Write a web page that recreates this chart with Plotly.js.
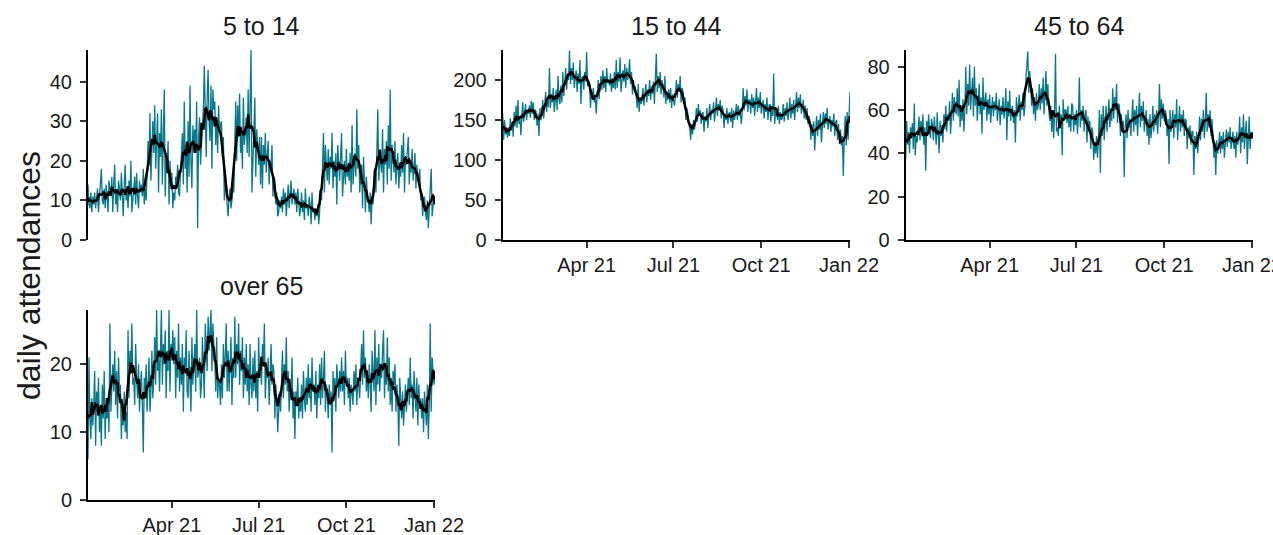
<!DOCTYPE html>
<html><head><meta charset="utf-8">
<script src="https://cdn.plot.ly/plotly-3.0.1.min.js"></script>
<style>html,body{margin:0;padding:0;background:#fff}#chart{width:1273px;height:535px}</style>
</head><body><div id="chart"></div>
<script>
// ---- data ----
const startDate = '2021-01-03';
const endDate = '2022-01-02';
const panelTitles = ['5 to 14', '15 to 44', '45 to 64', 'over 65'];
const yTitle = 'daily attendances';
const tickDates = ['2021-04-01', '2021-07-01', '2021-10-01', '2022-01-01'];
const tickLabels = ['Apr 21', 'Jul 21', 'Oct 21', 'Jan 22'];

const age5to14 = [
14,9,8,12,7,11,9, 12,8,10,13,7,11,12, 18,10,9,13,8,14,11, 7,15,12,11,16,7,14,
19,9,12,7,15,13,10, 17,11,6,14,19,10,12, 8,15,11,20,7,10,13, 16,9,17,11,8,15,12,
14,11,18,9,13,10,17, 25,19,32,15,24,30,22, 34,18,26,32,12,27,21, 33,14,27,38,11,22,17,
25,9,20,14,17,8,12, 10,16,14,19,12,11,17, 21,27,14,35,18,24,12, 30,16,39,20,13,29,24,
28,22,35,3,26,31,19, 23,29,33,44,26,21,36, 43,30,25,39,18,38,33, 35,24,31,22,34,27,29,
30,21,26,10,16,12,9, 6,11,13,8,10,14,12, 25,35,20,34,26,37,22, 27,18,36,24,29,31,22,
38,21,33,48,12,23,27, 36,16,28,22,19,26,14, 26,13,24,19,27,17,21, 25,14,20,18,24,11,16,
15,9,12,6,7,10,8, 11,7,13,9,12,6,10, 14,8,12,15,9,11,13, 9,12,7,13,10,6,8,
12,7,10,5,13,8,9, 6,11,9,4,12,7,8, 5,8,6,9,4,7,13, 10,17,27,12,24,19,15,
23,14,21,18,27,13,20, 16,22,9,24,19,15,21, 27,11,17,20,14,23,16, 19,15,22,12,29,14,18,
22,16,33,18,24,12,17, 19,8,21,15,7,16,11, 10,7,12,4,11,9,13, 18,12,27,33,15,21,19,
17,28,12,23,19,25,14, 29,18,38,15,24,21,17, 25,14,19,22,13,18,16, 24,17,27,12,21,19,23,
26,14,20,17,23,15,18, 22,13,19,16,14,18,10, 12,6,9,11,7,5,10, 3,8,13,18,6,10,11,
9];

const age15to44 = [
158,125,150,132,141,128,138, 130,152,138,147,129,160,142, 168,140,175,145,155,131,152, 172,148,165,170,150,161,158,
168,153,174,158,172,150,163, 160,143,158,130,165,150,157, 175,152,170,185,160,178,166, 215,165,182,172,190,160,178,
188,162,205,175,170,193,172, 210,180,196,215,188,205,200, 237,195,215,200,222,190,205, 212,185,208,195,225,170,203,
205,188,210,198,235,192,200, 195,165,188,176,190,172,180, 158,185,200,176,193,205,188, 212,190,205,185,215,196,200,
193,208,185,202,190,210,188, 225,190,210,198,228,185,205, 212,198,220,190,215,200,208, 226,195,210,182,200,188,192,
180,165,195,160,178,170,175, 190,168,185,195,172,188,180, 200,175,192,183,198,170,195, 233,185,205,190,210,182,200,
192,178,205,170,185,175,188, 172,190,165,182,175,168,180, 200,178,195,185,205,172,190, 185,170,178,150,165,158,145,
140,125,145,132,150,138,147, 165,148,170,155,162,145,158, 160,135,155,148,165,140,158, 170,150,163,158,172,148,162,
178,155,170,162,175,152,168, 162,140,158,150,165,145,158, 160,148,165,140,162,150,158, 170,150,168,155,160,145,158,
190,162,180,168,188,160,175, 175,158,182,165,178,155,170, 190,160,178,165,185,158,172, 175,152,170,160,178,150,168,
170,148,165,155,208,145,160, 165,150,168,145,160,150,152, 170,148,165,155,172,150,160, 178,152,170,158,175,150,165,
185,160,178,165,182,158,170, 175,152,168,150,165,145,155, 150,125,145,130,148,112,138, 155,130,150,138,158,122,145,
160,140,158,145,165,138,152, 155,135,150,142,158,130,148, 150,125,145,120,138,118,130, 80,130,155,118,160,125,150,
185];

const age45to64 = [
37,55,44,50,40,52,47, 54,42,63,39,48,45,50, 57,46,55,49,58,44,52, 32,55,48,58,51,47,56,
53,46,57,50,44,59,49, 40,55,48,52,45,58,51, 62,50,58,55,64,49,57, 68,55,66,60,58,70,57,
74,52,62,55,65,50,60, 80,58,72,62,81,60,68, 75,57,80,62,70,55,65, 72,58,66,49,75,60,64,
68,55,65,58,67,54,63, 66,57,64,60,68,55,62, 65,53,62,58,66,56,61, 70,46,64,57,69,55,60,
62,54,60,45,66,57,63, 67,55,64,60,68,57,62, 75,80,87,68,78,72,62, 70,58,66,55,68,60,62,
72,60,70,63,75,58,68, 78,62,72,60,55,62,50, 60,47,58,86,50,52,48, 62,52,58,39,65,55,60,
60,54,62,52,58,50,63, 62,50,58,53,60,49,57, 75,52,60,55,62,50,58, 60,45,57,50,55,42,52,
50,37,45,40,48,38,46, 60,31,58,48,62,46,55, 62,50,58,65,52,60,55, 70,56,66,60,72,54,63,
62,48,58,50,55,29,52, 58,47,60,52,56,48,55, 65,50,60,53,62,48,57, 68,52,62,55,64,50,58,
60,48,56,44,58,47,52, 62,50,58,53,60,49,57, 72,52,65,56,63,55,60, 58,48,56,35,60,50,55,
60,47,58,52,65,46,54, 62,50,58,52,60,48,56, 55,42,52,47,53,44,50, 50,30,48,42,50,40,46,
57,46,56,50,60,47,54, 68,50,58,52,60,48,56, 48,38,45,30,46,40,44, 50,40,48,42,50,38,47,
51,43,50,45,52,42,48, 50,42,48,38,50,44,47, 57,40,52,45,58,42,50, 55,35,48,57,42,50,47,
49];

const age65plus = [
6,21,12,9,15,11,14, 19,8,16,13,18,10,14, 8,17,12,19,9,14,12, 15,10,26,13,18,20,16,
22,14,19,12,21,16,17, 9,14,11,16,10,13,9, 25,15,22,19,26,17,18, 14,23,18,15,20,13,17,
19,14,7,18,16,20,13, 17,21,13,16,22,15,18, 24,17,28,19,22,16,23, 28,17,23,20,25,15,22,
19,28,16,23,21,25,20, 24,15,22,18,26,16,21, 17,23,13,21,19,25,16, 15,22,18,13,24,17,20,
23,16,28,18,19,21,15, 17,24,20,15,26,22,19, 27,22,25,28,19,26,23, 21,16,24,15,18,17,14,
20,15,23,18,21,26,16, 22,16,19,24,14,21,18, 27,18,23,20,26,17,22, 19,24,15,21,17,23,16,
20,14,23,17,15,21,16, 22,15,19,13,24,18,20, 17,23,20,26,15,19,18, 21,14,18,23,17,20,19,
12,17,15,10,14,16,13, 18,22,15,20,17,24,16, 19,13,17,15,21,12,16, 9,16,14,18,12,15,13,
17,12,19,15,13,18,14, 20,15,18,13,21,16,17, 14,19,12,17,15,20,14, 21,15,18,22,13,17,16,
12,17,14,16,7,19,15, 18,13,20,17,15,19,16, 21,16,19,14,22,17,18, 15,18,13,17,16,14,19,
16,20,14,18,17,15,19, 23,17,25,18,21,16,19, 15,20,17,13,22,18,16, 25,14,21,17,23,16,19,
18,22,25,15,20,17,24, 16,21,14,18,13,19,17, 20,13,17,15,8,18,14, 12,16,11,14,17,13,15,
18,14,21,15,17,12,19, 16,13,18,11,17,14,15, 12,15,10,16,13,11,17, 9,14,26,13,21,19,17,
19];

const seriesList = [age5to14, age15to44, age45to64, age65plus];
const yMax = [48, 237.5, 87.7, 28];
const yTicks = [[0,10,20,30,40],[0,50,100,150,200],[0,20,40,60,80],[0,10,20]];

// ---- helpers ----
function makeDates(n) {
  const out = [];
  const d0 = new Date(startDate + 'T00:00:00Z');
  for (let i = 0; i < n; i++) {
    out.push(new Date(d0.getTime() + i * 86400000).toISOString().slice(0, 10));
  }
  return out;
}
function rolling7(a) {
  return a.map((_, i) => {
    let s = 0, c = 0;
    for (let j = i - 3; j <= i + 3; j++) {
      if (j >= 0 && j < a.length) { s += a[j]; c++; }
    }
    return s / c;
  });
}

// ---- geometry (pixels) ----
const W = 1273, H = 535;
const xPix = [[88, 435], [502.7, 850], [905.7, 1253], [88, 435]];
const yPix = [[50, 240], [50, 240], [50, 240], [310, 500]];
const teal = '#07798a';
const FONT = 'Liberation Sans, Arial, sans-serif';

const traces = [];
seriesList.forEach((vals, i) => {
  const dates = makeDates(vals.length);
  const sfx = i === 0 ? '' : String(i + 1);
  traces.push({x: dates, y: vals, type: 'scatter', mode: 'lines',
    line: {color: teal, width: 1.3}, xaxis: 'x' + sfx, yaxis: 'y' + sfx, hoverinfo: 'skip'});
  traces.push({x: dates, y: rolling7(vals), type: 'scatter', mode: 'lines',
    line: {color: '#000', width: 2.5}, xaxis: 'x' + sfx, yaxis: 'y' + sfx, hoverinfo: 'skip'});
});

const layout = {
  width: W, height: H, margin: {l: 0, r: 0, t: 0, b: 0},
  paper_bgcolor: '#fff', plot_bgcolor: '#fff', showlegend: false,
  font: {family: FONT, color: '#1a1a1a'},
  annotations: []
};
for (let i = 0; i < 4; i++) {
  const sfx = i === 0 ? '' : String(i + 1);
  const showX = i !== 0;
  layout['xaxis' + sfx] = {
    domain: [xPix[i][0] / W, xPix[i][1] / W], anchor: 'y' + sfx,
    type: 'date', range: [startDate, endDate],
    showgrid: false, zeroline: false,
    showline: showX, linecolor: '#000', linewidth: 2,
    ticks: showX ? 'outside' : '', ticklen: 6, tickwidth: 2, tickcolor: '#333',
    tickmode: 'array', tickvals: tickDates, ticktext: tickLabels,
    showticklabels: showX, ticklabelstandoff: 0, ticklabeloverflow: 'allow',
    tickfont: {size: 20, family: FONT, color: '#1a1a1a'}
  };
  layout['yaxis' + sfx] = {
    domain: [1 - yPix[i][1] / H, 1 - yPix[i][0] / H], anchor: 'x' + sfx,
    range: [0, yMax[i]], showgrid: false, zeroline: false,
    showline: true, linecolor: '#000', linewidth: 2,
    ticks: 'outside', ticklen: 6, tickwidth: 2, tickcolor: '#333',
    tickmode: 'array', tickvals: yTicks[i],
    ticklabelstandoff: 4,
    tickfont: {size: 20, family: FONT, color: '#1a1a1a'}
  };
  const cx = (xPix[i][0] + xPix[i][1]) / 2;
  const ty = yPix[i][0] - 24;
  layout.annotations.push({
    text: panelTitles[i], xref: 'paper', yref: 'paper',
    x: cx / W, y: 1 - ty / H, xanchor: 'center', yanchor: 'middle',
    showarrow: false, font: {size: 25, family: FONT, color: '#1a1a1a'}
  });
}
layout.annotations.push({
  text: yTitle, xref: 'paper', yref: 'paper', x: 29 / W, y: 1 - 276 / H,
  xanchor: 'center', yanchor: 'middle', textangle: -90, showarrow: false,
  font: {size: 32, family: FONT, color: '#1a1a1a'}
});

Plotly.newPlot('chart', traces, layout, {staticPlot: true, displayModeBar: false});
</script></body></html>
